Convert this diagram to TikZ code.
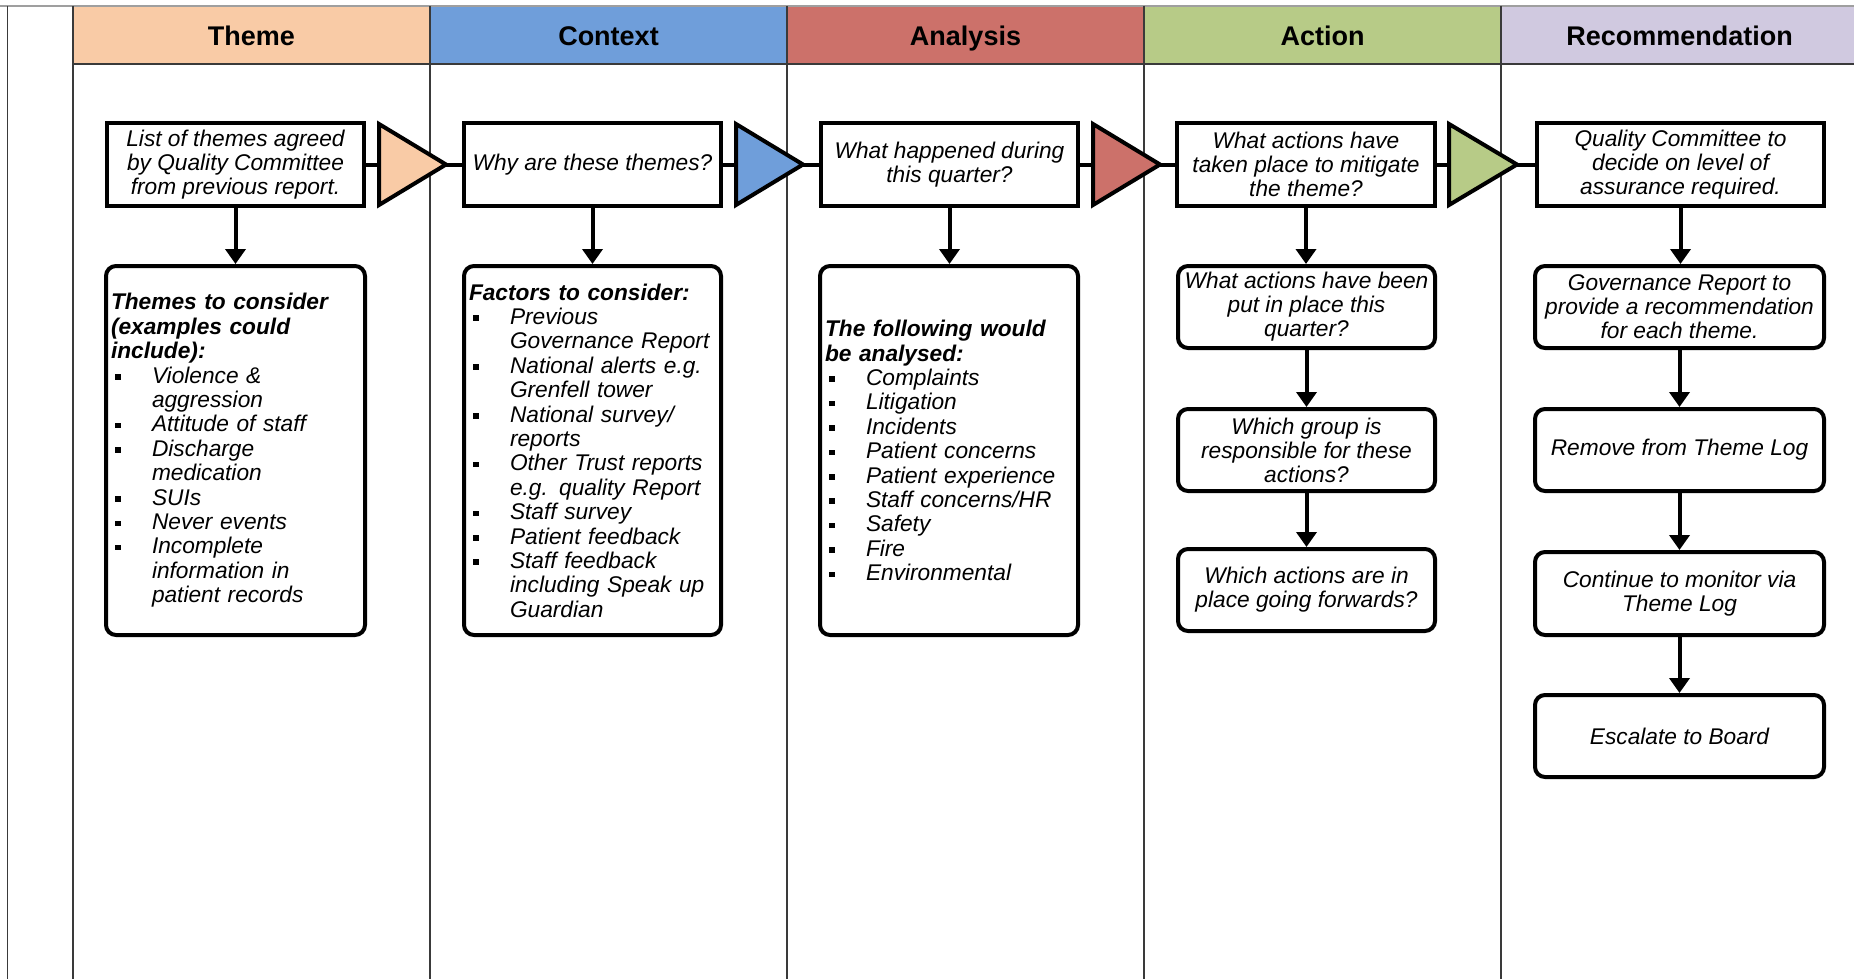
\documentclass[tikz,border=0pt]{standalone}
\usepackage{fontspec}
\setmainfont{Liberation Sans}
\usetikzlibrary{arrows.meta}
\definecolor{cTheme}{HTML}{F9CBA6}
\definecolor{cContext}{HTML}{6F9EDA}
\definecolor{cAnalysis}{HTML}{CC716A}
\definecolor{cAction}{HTML}{B7CB87}
\definecolor{cRec}{HTML}{D0C9E0}
\definecolor{gridc}{HTML}{3A3A3A}
\newcommand\lbul[1]{\mbox{\makebox[41pt][l]{\hspace{4pt}\raisebox{3.5pt}{\rule{5.5pt}{5.5pt}}}#1}}
\newcommand\lcont[1]{\mbox{\hspace*{41pt}#1}}
\newcommand\lhead[1]{\mbox{\bfseries #1}}
\begin{document}
\begin{tikzpicture}[x=1pt,y=-1pt,
 hdr/.style={font=\bfseries\fontsize{27}{30}\selectfont, anchor=base, inner sep=0pt},
 topbox/.style={draw, line width=4pt, fill=white, inner sep=0pt, minimum height=83pt, align=center, font=\itshape\fontsize{22.7}{24}\selectfont},
 listbox/.style={draw, line width=4pt, rounded corners=10pt, fill=white, inner xsep=5pt, inner ysep=0pt, align=left, font=\itshape\fontsize{22.7}{24.4}\selectfont},
 stepbox/.style={draw, line width=4pt, rounded corners=10pt, fill=white, inner sep=0pt, minimum height=82pt, align=center, font=\itshape\fontsize{22.7}{24}\selectfont},
 link/.style={line width=4pt},
 arr/.style={line width=4pt, -{Triangle[width=20pt,length=15pt]}},
 tri/.style={draw, line width=4pt, line join=miter},
 grid/.style={gridc, line width=1.8pt}]
\useasboundingbox (0,0) rectangle (1854,979);
\fill[white] (0,0) rectangle (1854,979);
% header band
\fill[cTheme] (73,6) rectangle (430,64);
\fill[cContext] (430,6) rectangle (787,64);
\fill[cAnalysis] (787,6) rectangle (1144,64);
\fill[cAction] (1144,6) rectangle (1501,64);
\fill[cRec] (1501,6) rectangle (1854,64);
% grid
\draw[gray!75, line width=2pt] (0,6) -- (1854,6);
\draw[grid] (7.5,6) -- (7.5,979);
\foreach \gx in {73,430,787,1144,1501} {\draw[grid] (\gx,6) -- (\gx,979);}
\draw[grid] (73,64) -- (1854,64);
% headers
\node[hdr] (hTheme) at (251.5,45.5) {Theme};
\node[hdr] (hContext) at (608.5,45.5) {Context};
\node[hdr] (hAnalysis) at (965.5,45.5) {Analysis};
\node[hdr] (hAction) at (1322.5,45.5) {Action};
\node[hdr] (hRec) at (1679.5,45.5) {Recommendation};
% top row
\node[topbox, minimum width=257pt] (q1) at (235.5,164.5) {List of themes agreed\\by Quality Committee\\from previous report.};
\node[topbox, minimum width=257pt] (q2) at (592.5,164.5) {Why are these themes?};
\node[topbox, minimum width=257pt] (q3) at (949.5,164.5) {What happened during\\this quarter?};
\node[topbox, minimum width=258pt] (q4) at (1306,164.5) {What actions have\\taken place to mitigate\\the theme?};
\node[topbox, minimum width=287pt] (q5) at (1680.5,164.5) {Quality Committee to\\decide on level of\\assurance required.};
% triangles
\coordinate (t1a) at (379,164.5); \coordinate (t1b) at (446,164.5);
\coordinate (t2a) at (736,164.5); \coordinate (t2b) at (803,164.5);
\coordinate (t3a) at (1093,164.5); \coordinate (t3b) at (1160,164.5);
\coordinate (t4a) at (1449,164.5); \coordinate (t4b) at (1517,164.5);
\draw[link] (q1.east) -- (t1a); \draw[link] (t1b) -- (q2.west);
\draw[link] (q2.east) -- (t2a); \draw[link] (t2b) -- (q3.west);
\draw[link] (q3.east) -- (t3a); \draw[link] (t3b) -- (q4.west);
\draw[link] (q4.east) -- (t4a); \draw[link] (t4b) -- (q5.west);
\filldraw[tri, fill=cTheme] (379,124) -- (t1b) -- (379,205) -- cycle;
\filldraw[tri, fill=cContext] (736,124) -- (t2b) -- (736,205) -- cycle;
\filldraw[tri, fill=cAnalysis] (1093,124) -- (t3b) -- (1093,205) -- cycle;
\filldraw[tri, fill=cAction] (1449,124) -- (t4b) -- (1449,205) -- cycle;
% lower list boxes
\node[listbox, minimum width=259pt, minimum height=369pt, text width=249pt] (l1) at (235.5,450.5) {%
\lhead{Themes to consider}\\
\lhead{(examples could}\\
\lhead{include):}\\
\lbul{Violence \&}\\
\lcont{aggression}\\
\lbul{Attitude of staff}\\
\lbul{Discharge}\\
\lcont{medication}\\
\lbul{SUIs}\\
\lbul{Never events}\\
\lbul{Incomplete}\\
\lcont{information in}\\
\lcont{patient records}};
\node[listbox, minimum width=257pt, minimum height=369pt, text width=247pt] (l2) at (592.5,450.5) {%
\lhead{Factors to consider:}\\
\lbul{Previous}\\
\lcont{Governance Report}\\
\lbul{National alerts e.g.}\\
\lcont{Grenfell tower}\\
\lbul{National survey/}\\
\lcont{reports}\\
\lbul{Other Trust reports}\\
\lcont{e.g. quality Report}\\
\lbul{Staff survey}\\
\lbul{Patient feedback}\\
\lbul{Staff feedback}\\
\lcont{including Speak up}\\
\lcont{Guardian}};
\node[listbox, minimum width=258pt, minimum height=369pt, text width=248pt] (l3) at (949,450.5) {%
\lhead{The following would}\\
\lhead{be analysed:}\\
\lbul{Complaints}\\
\lbul{Litigation}\\
\lbul{Incidents}\\
\lbul{Patient concerns}\\
\lbul{Patient experience}\\
\lbul{Staff concerns/HR}\\
\lbul{Safety}\\
\lbul{Fire}\\
\lbul{Environmental}};
\draw[arr] (q1.south) -- (q1.south |- l1.north);
\draw[arr] (q2.south) -- (q2.south |- l2.north);
\draw[arr] (q3.south) -- (q3.south |- l3.north);
% action column
\node[stepbox, minimum width=257pt] (a2) at (1306.5,307) {What actions have been\\put in place this\\quarter?};
\node[stepbox, minimum width=257pt] (a3) at (1306.5,450) {Which group is\\responsible for these\\actions?};
\node[stepbox, minimum width=257pt] (a4) at (1306.5,590) {Which actions are in\\place going forwards?};
\draw[arr] (q4.south) -- (q4.south |- a2.north);
\draw[arr] (a2.south) -- (a3.north);
\draw[arr] (a3.south) -- (a4.north);
% recommendation column
\node[stepbox, minimum width=289pt] (r2) at (1679.5,307) {Governance Report to\\provide a recommendation\\for each theme.};
\node[stepbox, minimum width=289pt] (r3) at (1679.5,450) {Remove from Theme Log};
\node[stepbox, minimum width=289pt, minimum height=83pt] (r4) at (1679.5,593.5) {Continue to monitor via\\Theme Log};
\node[stepbox, minimum width=289pt] (r5) at (1679.5,736) {Escalate to Board};
\draw[arr] (q5.south) -- (q5.south |- r2.north);
\draw[arr] (r2.south) -- (r3.north);
\draw[arr] (r3.south) -- (r4.north);
\draw[arr] (r4.south) -- (r5.north);
\end{tikzpicture}
\end{document}
